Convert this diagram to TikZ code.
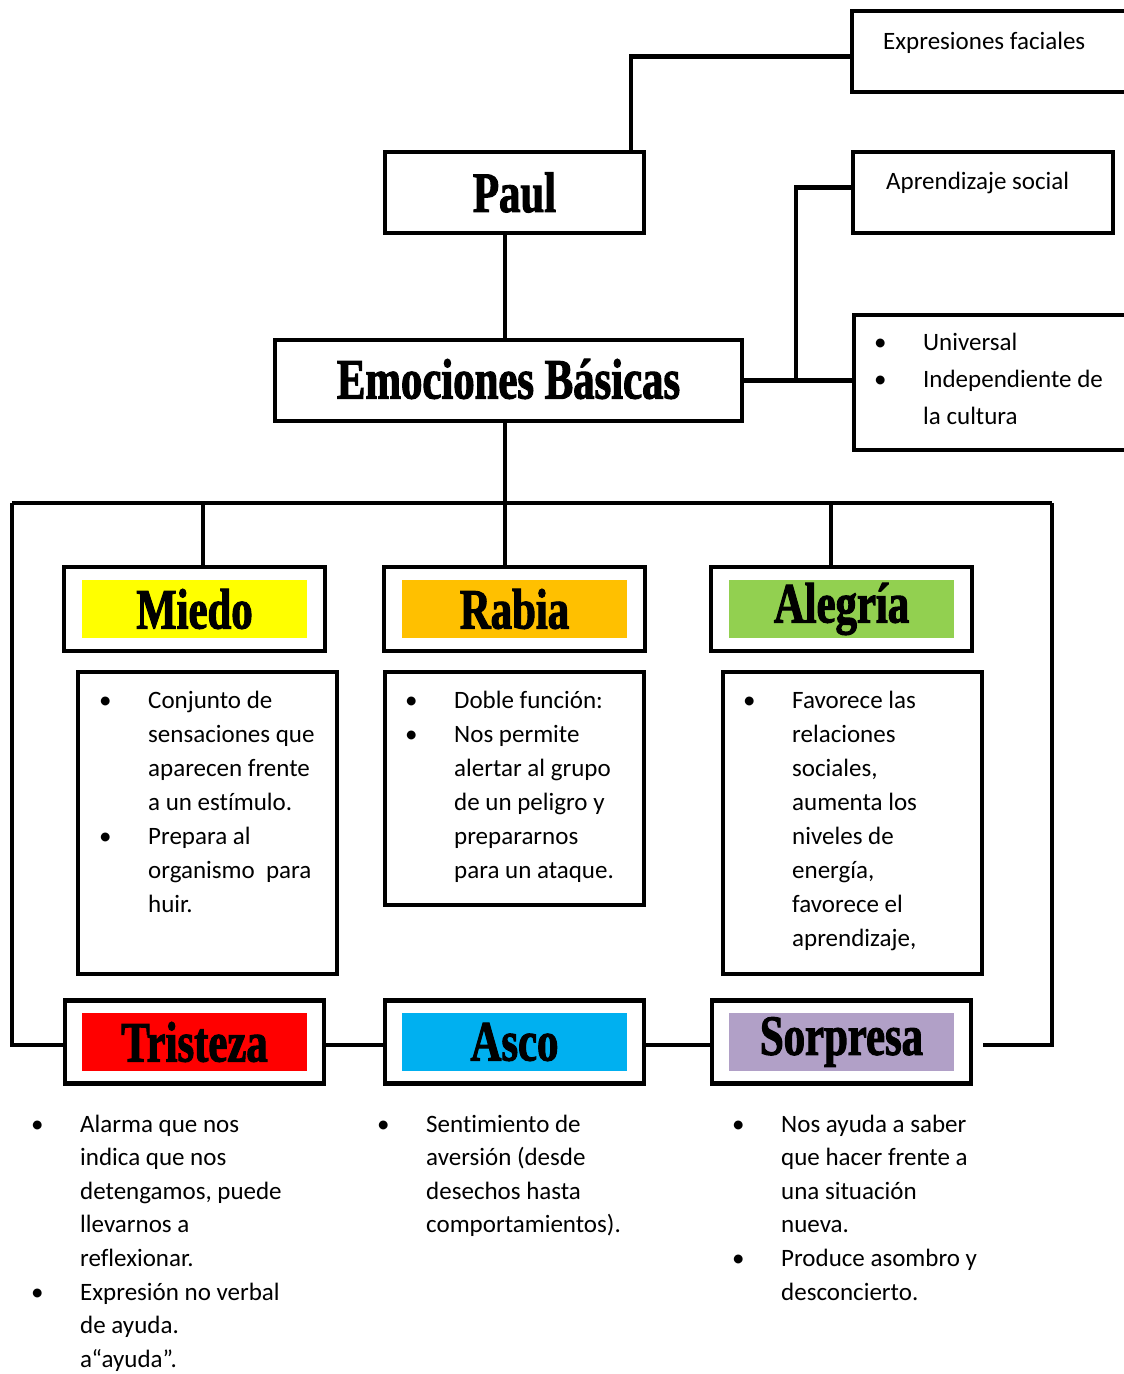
\documentclass[tikz,border=0pt]{standalone}
\usepackage{fontspec}
\setmainfont[Ligatures=CommonOff]{Carlito}
\newfontfamily\titlefont[FakeStretch=0.75,FakeBold=1.8]{Liberation Serif}
\usepackage{array}

\tikzset{
  conn/.style={line width=4.5pt},
  frame/.style={draw, line width=4.5pt, inner sep=0pt},
  headfill/.style={fill=#1, inner sep=0pt, minimum width=225pt, minimum height=58pt,
    font=\titlefont\bfseries\fontsize{57}{60}\selectfont},
  bigtitle/.style={font=\titlefont\bfseries\fontsize{57}{60}\selectfont, inner sep=0pt},
  txt/.style={anchor=base west, inner sep=0pt, font=\fontsize{25}{34}\selectfont},
}
\definecolor{cMiedo}{HTML}{FFFF00}
\definecolor{cRabia}{HTML}{FFC000}
\definecolor{cAlegria}{HTML}{92D050}
\definecolor{cTristeza}{HTML}{FF0000}
\definecolor{cAsco}{HTML}{00B0F0}
\definecolor{cSorpresa}{HTML}{B1A0C7}

% bullet list: first column holds the bullet, second the text
\newcommand{\blist}[1]{\begin{tabular}[t]{@{}p{49pt}@{}l@{}}#1\end{tabular}}

\begin{document}
\begin{tikzpicture}[x=1pt,y=-1pt]
\useasboundingbox (0,0) rectangle (1124,1374);

% ---------- top part ----------
\node[frame, minimum width=259pt, minimum height=81pt] (paul) at (514.5,192.5) {};
\node[bigtitle] (paulT) at (514.5,192.5) {Paul};

\node[frame, minimum width=467pt, minimum height=81pt] (emo) at (508.5,380.5) {};
\node[bigtitle] (emoT) at (508.5,379) {Emociones Básicas};

\node[frame, minimum width=276pt, minimum height=81pt] (expr) at (990,51.5) {};
\node[txt] (exprT) at (883,49) {Expresiones faciales};

\node[frame, minimum width=260pt, minimum height=81pt] (aprend) at (983,192.5) {};
\node[txt] (aprendT) at (886,189) {Aprendizaje social};

\node[frame, minimum width=274pt, minimum height=135pt] (univ) at (991,382.5) {};
\node[txt, font=\fontsize{25}{37}\selectfont] (univT) at (874,350)
  {\blist{•&Universal\\ •&Independiente de\\ &la cultura}};

% ---------- emotion headers ----------
\node[frame, minimum width=261pt, minimum height=84pt] (miedo) at (194.5,609) {};
\node[headfill=cMiedo] (miedoT) at (194.5,609) {Miedo};
\node[frame, minimum width=261pt, minimum height=84pt] (rabia) at (514.5,609) {};
\node[headfill=cRabia] (rabiaT) at (514.5,609) {Rabia};
\node[frame, minimum width=261pt, minimum height=84pt] (alegria) at (841.5,609) {};
\node[headfill=cAlegria] (alegriaT) at (841.5,609) {Alegría};

% ---------- description boxes ----------
\node[frame, minimum width=259pt, minimum height=302pt] (miedoD) at (207.5,823) {};
\node[txt] (miedoDT) at (99,708) {\blist{•&Conjunto de\\ &sensaciones que\\ &aparecen frente\\ &a un estímulo.\\ •&Prepara al\\ &organismo\ \ para\\ &huir.}};

\node[frame, minimum width=259pt, minimum height=233pt] (rabiaD) at (514.5,788.5) {};
\node[txt] (rabiaDT) at (405,708) {\blist{•&Doble función:\\ •&Nos permite\\ &alertar al grupo\\ &de un peligro y\\ &prepararnos\\ &para un ataque.}};

\node[frame, minimum width=259pt, minimum height=302pt] (alegriaD) at (852.5,823) {};
\node[txt] (alegriaDT) at (743,708) {\blist{•&Favorece las\\ &relaciones\\ &sociales,\\ &aumenta los\\ &niveles de\\ &energía,\\ &favorece el\\ &aprendizaje,}};

% ---------- bottom headers ----------
\node[frame, minimum width=259pt, minimum height=83pt] (tris) at (194.5,1042) {};
\node[headfill=cTristeza] (trisT) at (194.5,1042) {Tristeza};
\node[frame, minimum width=259pt, minimum height=83pt] (asco) at (514.5,1042) {};
\node[headfill=cAsco] (ascoT) at (514.5,1042) {Asco};
\node[frame, minimum width=259pt, minimum height=83pt] (sorp) at (841.5,1042) {};
\node[headfill=cSorpresa] (sorpT) at (841.5,1042) {Sorpresa};

% ---------- bottom texts ----------
\node[txt, font=\fontsize{25}{33.6}\selectfont] (trisD) at (31,1132) {\blist{•&Alarma que nos\\ &indica que nos\\ &detengamos, puede\\ &llevarnos a\\ &reflexionar.\\ •&Expresión no verbal\\ &de ayuda.\\ &a“ayuda”.}};
\node[txt, font=\fontsize{25}{33.6}\selectfont] (ascoD) at (377,1132) {\blist{•&Sentimiento de\\ &aversión (desde\\ &desechos hasta\\ &comportamientos).}};
\node[txt, font=\fontsize{25}{33.6}\selectfont] (sorpD) at (732,1132) {\blist{•&Nos ayuda a saber\\ &que hacer frente a\\ &una situación\\ &nueva.\\ •&Produce asombro y\\ &desconcierto.}};

% ---------- connectors ----------
\coordinate (pUp) at (631,152);
\draw[conn] (pUp) |- ([yshift=-5pt]expr.west);

\coordinate (busL) at (12,503);
\coordinate (busR) at (1052,503);
\coordinate (dM) at (203,503);
\coordinate (dR) at (505,503);
\coordinate (dA) at (831,503);

\draw[conn] (emo.north -| dR) -- (paul.south -| dR);

\coordinate (j1) at (796,380.5);
\draw[conn] (emo.east) -- (j1);
\draw[conn] (j1) |- ([yshift=5pt]aprend.west);
\draw[conn] (j1) -- (j1 -| univ.west);

\draw[conn] (emo.south -| dR) -- (dR);
\draw[conn] (busL) -- (busR);
\draw[conn] (dM) -- (dM |- miedo.north);
\draw[conn] (dR) -- (dR |- rabia.north);
\draw[conn] (dA) -- (dA |- alegria.north);

\draw[conn] (busL) |- ([yshift=-3pt]tris.west);
\draw[conn] (busR) |- ([xshift=10pt,yshift=-3pt]sorp.east);
\draw[conn] ([yshift=-3pt]tris.east) -- ([yshift=-3pt]asco.west);
\draw[conn] ([yshift=-3pt]asco.east) -- ([yshift=-3pt]sorp.west);
\end{tikzpicture}
\end{document}
